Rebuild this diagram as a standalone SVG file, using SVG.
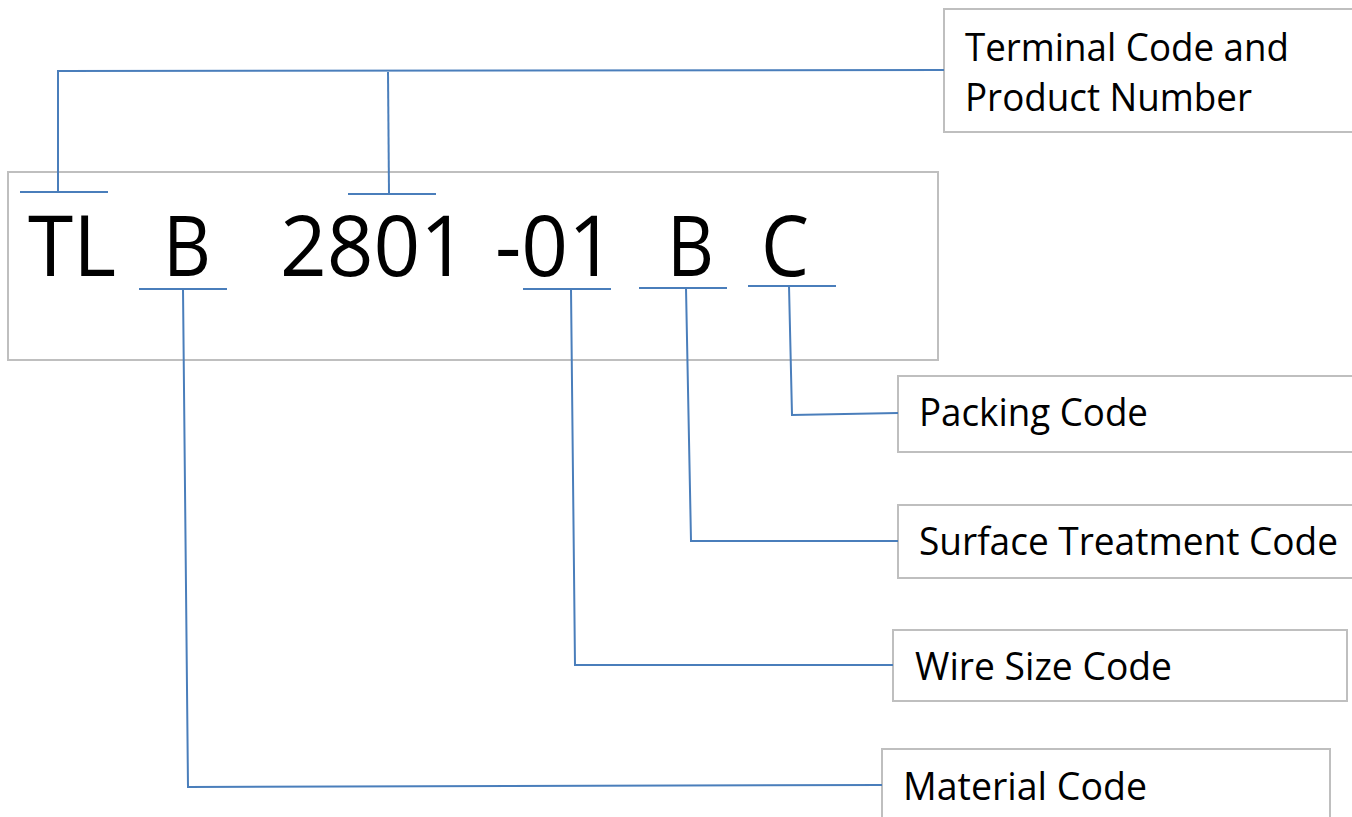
<svg xmlns="http://www.w3.org/2000/svg" width="1352" height="817" viewBox="0 0 1352 817">
<style>
.box{fill:#fff;stroke:#bfbfbf;stroke-width:2}
.lbl{font-family:"Open Sans","Noto Sans",sans-serif;font-size:38px;fill:#000}
.big{font-family:"Open Sans","Noto Sans",sans-serif;font-size:85px;fill:#000}
.c{fill:none;stroke:#4a7ebb;stroke-width:2}
</style>
<rect width="1352" height="817" fill="#fff"/>
<g id="code">
<rect class="box" x="8" y="172" width="930" height="188"/>
<text class="big" x="28" y="276" textLength="88" lengthAdjust="spacingAndGlyphs">TL</text>
<text class="big" x="163" y="276" textLength="48" lengthAdjust="spacingAndGlyphs">B</text>
<text class="big" x="280" y="276" textLength="187" lengthAdjust="spacingAndGlyphs">2801</text>
<text class="big" x="495" y="276" textLength="120" lengthAdjust="spacingAndGlyphs">-01</text>
<text class="big" x="667" y="276" textLength="47" lengthAdjust="spacingAndGlyphs">B</text>
<text class="big" x="761" y="276" textLength="48" lengthAdjust="spacingAndGlyphs">C</text>
</g>
<g id="terminal">
<rect class="box" x="944" y="9" width="412" height="123"/>
<text class="lbl" x="965" y="61" textLength="324" lengthAdjust="spacingAndGlyphs">Terminal Code and</text>
<text class="lbl" x="965" y="111" textLength="287" lengthAdjust="spacingAndGlyphs">Product Number</text>
</g>
<g id="packing">
<rect class="box" x="898" y="376" width="458" height="76"/>
<text class="lbl" x="919" y="426" textLength="229" lengthAdjust="spacingAndGlyphs">Packing Code</text>
</g>
<g id="surface">
<rect class="box" x="898" y="505" width="458" height="73"/>
<text class="lbl" x="919" y="555" textLength="419" lengthAdjust="spacingAndGlyphs">Surface Treatment Code</text>
</g>
<g id="wire">
<rect class="box" x="893" y="630" width="454" height="71"/>
<text class="lbl" x="915" y="680" textLength="257" lengthAdjust="spacingAndGlyphs">Wire Size Code</text>
</g>
<g id="material">
<rect class="box" x="882" y="749" width="448" height="80"/>
<text class="lbl" x="903" y="800" textLength="244" lengthAdjust="spacingAndGlyphs">Material Code</text>
</g>
<g id="connectors">
<line class="c" x1="20" y1="192" x2="108" y2="192"/>
<line class="c" x1="348" y1="194" x2="436" y2="194"/>
<polyline class="c" points="58,191 58,71 944,70"/>
<line class="c" x1="388" y1="72" x2="389" y2="194"/>
<line class="c" x1="139" y1="289" x2="227" y2="289"/>
<polyline class="c" points="183,289 188,787 882,785"/>
<line class="c" x1="523" y1="289" x2="611" y2="289"/>
<polyline class="c" points="571,289 575,665 893,665"/>
<line class="c" x1="639" y1="288" x2="727" y2="288"/>
<polyline class="c" points="686,288 691,541 898,541"/>
<line class="c" x1="748" y1="286" x2="836" y2="286"/>
<polyline class="c" points="789,286 792,415 898,413"/>
</g>
</svg>
